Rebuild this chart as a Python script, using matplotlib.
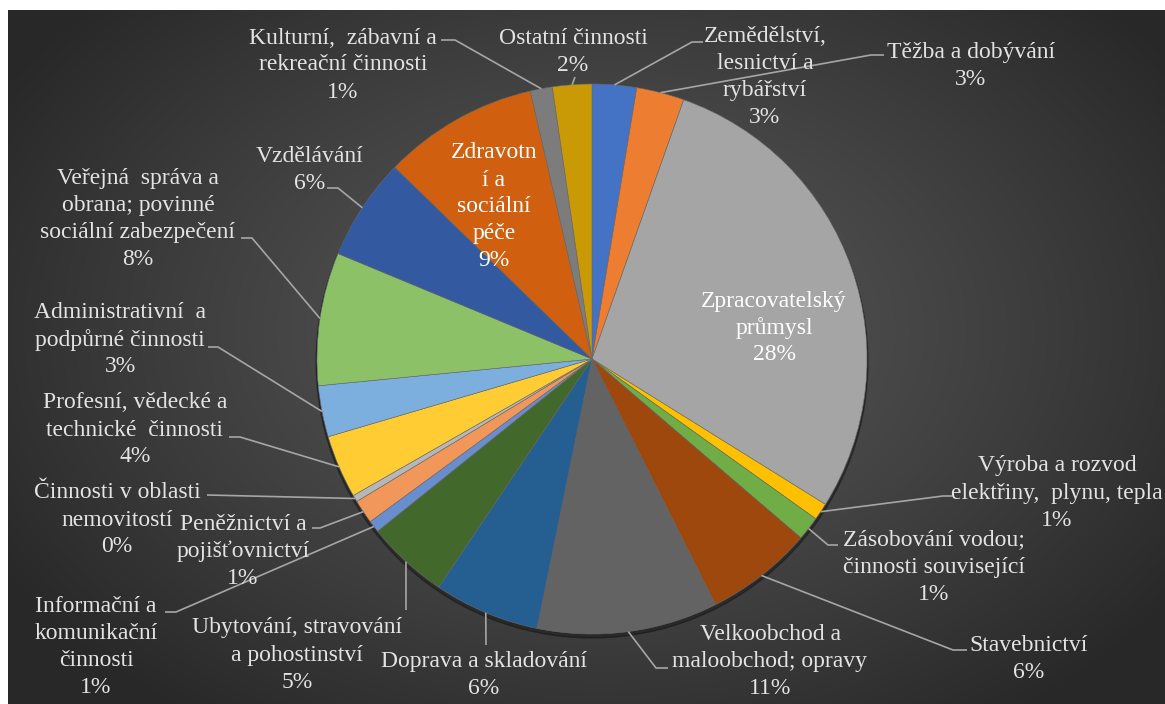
import numpy as np
import matplotlib
matplotlib.use('Agg')
import matplotlib.pyplot as plt
from matplotlib.patches import Circle

W, H = 1165, 704

# odvětví CZ-NACE, po směru hodinových ručiček od 12 hodin
labels = [
    'Zemědělství,\nlesnictví a\nrybářství',
    'Těžba a dobývání',
    'Zpracovatelský\nprůmysl',
    'Výroba a rozvod\nelektřiny,  plynu, tepla',
    'Zásobování vodou;\nčinnosti související',
    'Stavebnictví',
    'Velkoobchod a\nmaloobchod; opravy',
    'Doprava a skladování',
    'Ubytování, stravování\na pohostinství',
    'Informační a\nkomunikační\nčinnosti',
    'Peněžnictví a\npojišťovnictví',
    'Činnosti v oblasti\nnemovitostí',
    'Profesní, vědecké a\ntechnické  činnosti',
    'Administrativní  a\npodpůrné činnosti',
    'Veřejná  správa a\nobrana; povinné\nsociální zabezpečení',
    'Vzdělávání',
    'Zdravotn\ní a\nsociální\npéče',
    'Kulturní,  zábavní a\nrekreační činnosti',
    'Ostatní činnosti',
]
values = [2.6, 2.8, 28.4, 1.0, 1.4, 6.3, 10.6, 6.2, 4.8, 0.7,
          1.4, 0.4, 3.7, 3.0, 7.8, 6.0, 9.1, 1.3, 2.3]
colors = ['#4472C4', '#ED7D31', '#A5A5A5', '#FFC000', '#70AD47', '#9E480E',
          '#636363', '#255E91', '#43682B', '#698ED0', '#F1975A', '#B7B7B7',
          '#FFCD33', '#7CAFDD', '#8CC168', '#335AA1', '#D0600F', '#7C7C7C',
          '#C99A06']

# rozmístění popisků (pixely obrázku): střed textu, body vodicí čáry
layout = [
    ((765, 77), [(692, 42), (703, 42)]),
    ((971, 66), [(871, 55), (884, 55)]),
    ((774, 328), None),
    ((1057, 493), [(943, 496), (952, 496)]),
    ((934, 567), [(828, 545), (838, 545)]),
    ((1029, 659), [(953, 650), (967, 650)]),
    ((770, 662), [(656, 668), (668, 668)]),
    ((484, 675), [(486, 645)]),
    ((297, 655), [(406, 610)]),
    ((96, 647), [(176, 612), (165, 612)]),
    ((243, 551), [(320, 528), (312, 528)]),
    ((117, 520), [(207, 495)]),
    ((135, 430), [(240, 437), (229, 437)]),
    ((120, 340), [(218, 347), (208, 347)]),
    ((138, 219), [(252, 238), (241, 238)]),
    ((310, 170), [(338, 188), (327, 188)]),
    ((494, 207), None),
    ((343, 65), [(455, 40), (441, 40)]),
    ((573, 52), [(575, 77)]),
]
line_h = 27

fig = plt.figure(figsize=(W / 100, H / 100), dpi=100)
fig.patch.set_facecolor('white')
ax = fig.add_axes([0, 0, 1, 1])
ax.axis('off')

# tmavé pozadí s radiálním přechodem
yy, xx = np.mgrid[10:H, 8:W]
d = np.sqrt(((xx - 600) / 700.0) ** 2 + ((yy - 330) / 480.0) ** 2)
g = (88 - 48 * np.clip(d, 0, 1) ** 1.2) / 255.0
ax.imshow(np.dstack([g, g, g]), extent=(8, W, H, 10), zorder=0)

cx, cy, R = 592, 359, 275
ax.add_patch(Circle((cx, cy + 3), R + 1, color='black', alpha=0.3, zorder=1))
wedges, _ = ax.pie(values, colors=colors, startangle=-90, counterclock=True,
                   center=(cx, cy), radius=R,
                   wedgeprops=dict(linewidth=0.4, edgecolor='#6a6a6a'))
for w in wedges:
    w.set_zorder(2)

ax.set_xlim(0, W)
ax.set_ylim(H, 0)

total = sum(values)
for i, (lab, v) in enumerate(zip(labels, values)):
    (tx, ty), pts = layout[i]
    pct = '%d%%' % round(v / total * 100)
    inside = pts is None
    lines = (lab + '\n' + pct).split('\n')
    n = len(lines)
    for k, s in enumerate(lines):
        ax.text(tx, ty + (k - (n - 1) / 2.0) * line_h, s,
                ha='center', va='center', fontsize=17,
                family=['Liberation Serif', 'DejaVu Serif'],
                color='white' if inside else '#e3e3e3', zorder=4)
    if inside:
        continue
    w = wedges[i]
    mid = np.deg2rad((w.theta1 + w.theta2) / 2)
    rx = w.center[0] + w.r * np.cos(mid)
    ry = w.center[1] + w.r * np.sin(mid)
    xs = [rx] + [p[0] for p in pts]
    ys = [ry] + [p[1] for p in pts]
    ax.plot(xs, ys, color='#a6a6a6', lw=1.2, zorder=3, solid_capstyle='butt')

fig.savefig('out.png', dpi=100, facecolor=fig.get_facecolor())
